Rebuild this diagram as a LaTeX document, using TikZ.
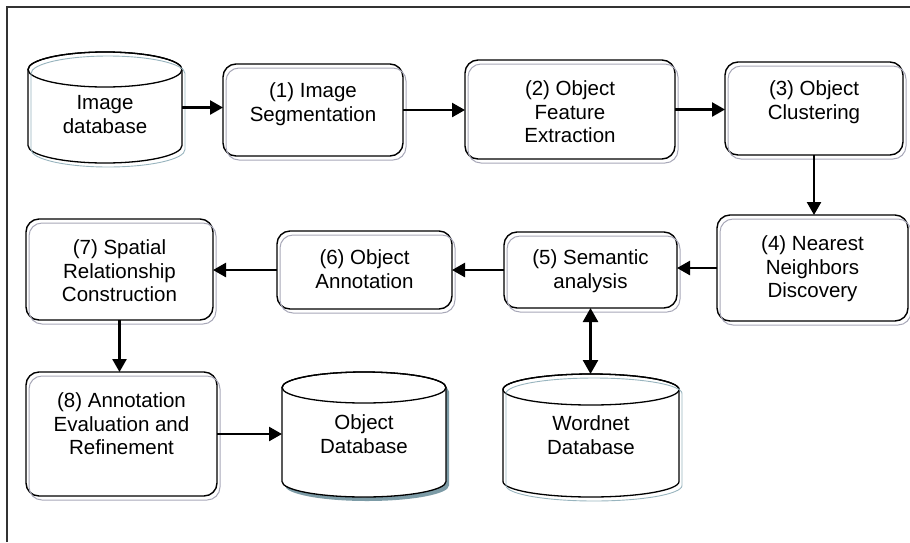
\documentclass[tikz,border=0pt]{standalone}
\usepackage{fontspec}
\setmainfont{Liberation Sans}
\usetikzlibrary{arrows.meta,calc}
\definecolor{boxshadow}{HTML}{A8A8B8}
\definecolor{cylshadow}{HTML}{98B4BE}
\definecolor{cylfill}{HTML}{7C9BA6}
\tikzset{
  procbox/.style={draw=black, line width=1.4pt, rounded corners=13pt, fill=white, inner sep=0pt, outer sep=0pt},
  boxshade/.style={draw=boxshadow, line width=1pt, rounded corners=13pt},
  lbl/.style={align=center, inner sep=0pt, anchor=north, font=\fontsize{20.5}{23.5}\selectfont},
  arr/.style={line width=2.5pt, -{Triangle[length=13pt,width=14pt]}},
  darr/.style={line width=2.5pt, {Triangle[length=14pt,width=15pt]}-{Triangle[length=14pt,width=15pt]}},
  cylmain/.style={fill=white, draw=black, line width=1.3pt},
  cylline/.style={draw=cylshadow, line width=0.9pt},
  cylfilled/.style={fill=cylfill},
  frameline/.style={draw=black!80, line width=1.3pt}
}
% #1 name, #2 cx, #3 cy, #4 w, #5 h, #6 text top y, #7 text
\newcommand\pbox[7]{%
  \node[procbox, minimum width=#4pt, minimum height=#5pt] (#1) at (#2,#3) {};
  \draw[boxshade] ($(#1.south west)+(3,4)$) rectangle ($(#1.north east)+(3,4)$);
  \node[lbl] (#1t) at (#2,#6) {#7};
}
% #1 style, #2 cx, #3 top, #4 bottom, #5 rx, #6 ry
\newcommand\cylpath[6]{%
  \path[#1] ({#2-#5},{#3+#6}) -- ({#2-#5},{#4-#6})
     arc[start angle=180, end angle=360, x radius=#5pt, y radius=#6pt]
     -- ({#2+#5},{#3+#6})
     arc[start angle=0, end angle=180, x radius=#5pt, y radius=#6pt] -- cycle;
}
\newcommand\cyltop[6]{%
  \path[#1] (#2,{#3+#6}) ellipse [x radius=#5pt, y radius=#6pt];
}
\begin{document}
\begin{tikzpicture}[x=1pt,y=-1pt]
\useasboundingbox (0,0) rectangle (910,542);
\draw[frameline] (7,542) -- (7,7) -- (910,7);

% Image database (outline shadow)
\node[inner sep=0pt, outer sep=0pt, minimum width=154pt, minimum height=111pt] (db1) at (105,107.5) {};
\cylpath{cylmain}{105}{52}{163}{77}{17.5}
\cyltop{draw=black, line width=1.3pt}{105}{52}{163}{77}{17.5}
\begin{scope}[shift={(3,4)}]
\cylpath{cylline}{105}{52}{163}{77}{17.5}
\end{scope}
\node[lbl] (db1t) at (105,95.5) {Image\\database};

% Wordnet database (outline shadow)
\node[inner sep=0pt, outer sep=0pt, minimum width=176pt, minimum height=123pt] (db2) at (591,435.5) {};
\cylpath{cylmain}{591}{374}{497}{88}{15.5}
\cyltop{draw=black, line width=1.3pt}{591}{374}{497}{88}{15.5}
\begin{scope}[shift={(3,4)}]
\cylpath{cylline}{591}{374}{497}{88}{15.5}
\end{scope}
\node[lbl] (db2t) at (591,415.5) {Wordnet\\Database};

% Object database (filled shadow)
\node[inner sep=0pt, outer sep=0pt, minimum width=164pt, minimum height=125pt] (db3) at (364,434.5) {};
\begin{scope}[shift={(3,4)}]
\cylpath{cylfilled}{364}{372}{497}{82}{15.5}
\end{scope}
\cylpath{cylmain}{364}{372}{497}{82}{15.5}
\cyltop{draw=black, line width=1.3pt}{364}{372}{497}{82}{15.5}
\node[lbl] (db3t) at (364,414.5) {Object\\Database};

% Process boxes
\pbox{b1}{313}{110}{180}{92}{82.5}{(1) Image\\Segmentation}
\pbox{b2}{570}{109.5}{210}{99}{80.5}{(2) Object\\Feature\\Extraction}
\pbox{b3}{814}{108.5}{178}{93}{80.5}{(3) Object\\Clustering}
\pbox{b4}{812.5}{268}{191}{106}{235.5}{(4) Nearest\\Neighbors\\Discovery}
\pbox{b5}{590.5}{270}{173}{76}{249.5}{(5) Semantic\\analysis}
\pbox{b6}{364.5}{270}{175}{78}{249.5}{(6) Object\\Annotation}
\pbox{b7}{119.5}{269.5}{187}{101}{239.5}{(7) Spatial\\Relationship\\Construction}
\pbox{b8}{121.5}{434}{191}{124}{392.5}{(8) Annotation\\Evaluation and\\Refinement}

% Connectors
\draw[arr] (db1.east) -- (b1.west |- db1.east);
\draw[arr] (b1.east) -- (b2.west |- b1.east);
\draw[arr] (b2.east) -- (b3.west |- b2.east);
\draw[arr] (b3.south) -- (b3.south |- b4.north);
\draw[arr] (b4.west) -- (b5.east |- b4.west);
\draw[arr] (b5.west) -- (b6.east |- b5.west);
\draw[arr] (b6.west) -- (b7.east |- b6.west);
\draw[arr] (b7.south) -- (b7.south |- b8.north);
\draw[arr] (b8.east) -- (db3.west |- b8.east);
\draw[darr] (b5.south) -- (b5.south |- db2.north);
\end{tikzpicture}
\end{document}
